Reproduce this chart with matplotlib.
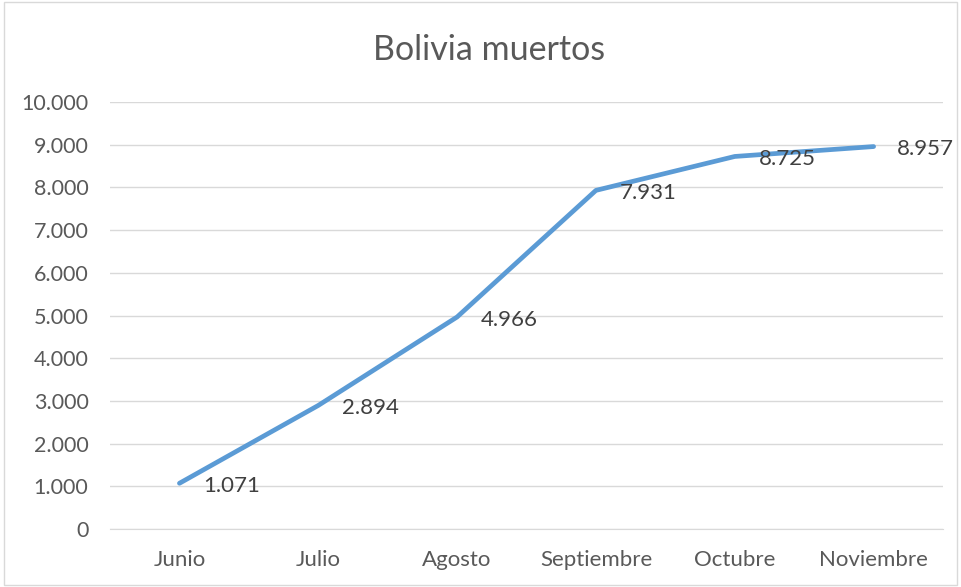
import matplotlib
matplotlib.use("Agg")
import matplotlib.pyplot as plt
from matplotlib.patches import Rectangle

months = ["Junio", "Julio", "Agosto", "Septiembre", "Octubre", "Noviembre"]
deaths = [1071, 2894, 4966, 7931, 8725, 8957]
yticks = [0, 1000, 2000, 3000, 4000, 5000, 6000, 7000, 8000, 9000, 10000]

def fmt(v):
    return f"{v:,}".replace(",", ".")

plt.rcParams["font.family"] = ["Lato", "DejaVu Sans"]

fig = plt.figure(figsize=(9.61, 5.87), dpi=100)
fig.patches.append(Rectangle((0.004, 0.003), 0.992, 0.994, transform=fig.transFigure,
                             fill=False, edgecolor="#D9D9D9", linewidth=1))
ax = fig.add_axes([0.1145, 0.0988, 0.8668, 0.7274])

x = list(range(len(months)))
ax.plot(x, deaths, color="#5B9BD5", linewidth=3.4, solid_capstyle="round", zorder=3)
for xi, v in zip(x, deaths):
    ax.annotate(fmt(v), (xi, v), xytext=(17, -2), textcoords="offset points",
                ha="left", va="center", fontsize=16, color="#404040")

ax.set_xlim(-0.5, len(months) - 0.5)
ax.set_ylim(0, 10000)
ax.set_yticks(yticks)
ax.set_yticklabels([fmt(t) for t in yticks], fontsize=15.5, color="#595959")
ax.set_xticks(x)
ax.set_xticklabels(months, fontsize=16, color="#595959")
ax.grid(axis="y", color="#D9D9D9", linewidth=1)
ax.set_axisbelow(True)
for s in ["top", "right", "left"]:
    ax.spines[s].set_visible(False)
ax.spines["bottom"].set_color("#D9D9D9")
ax.tick_params(length=0)
ax.tick_params(axis="y", pad=15.5)
ax.tick_params(axis="x", pad=15)

fig.text(0.509, 0.915, "Bolivia muertos", ha="center", va="center", fontsize=24.5, color="#595959")

fig.savefig("out.png", dpi=100)
